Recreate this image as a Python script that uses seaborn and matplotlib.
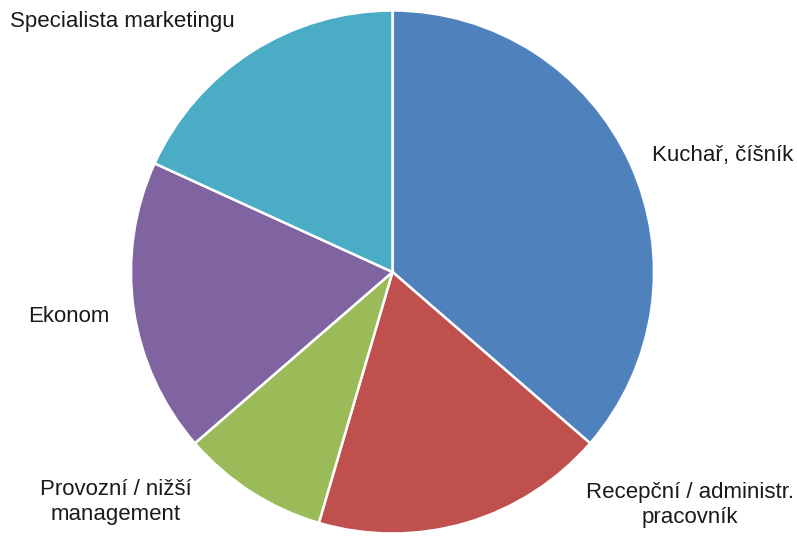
import matplotlib
matplotlib.use("Agg")
import matplotlib.pyplot as plt
import seaborn as sns

sns.set_theme(style="white")
plt.rcParams['font.family'] = ['Liberation Sans', 'DejaVu Sans']

categories = ["Kuchař, číšník", "Recepční / administr.\npracovník", "Provozní / nižší\nmanagement",
              "Ekonom", "Specialista marketingu"]
values = [4, 2, 1, 2, 2]
colors = ["#4F81BD", "#C0504D", "#9BBB59", "#8064A2", "#4BACC6"]

W, H = 797, 541
fig = plt.figure(figsize=(W / 100, H / 100), dpi=100)
ax = fig.add_axes([0, 0, 1, 1])

wedges, texts = ax.pie(values, labels=categories, colors=colors, startangle=90, counterclock=False,
                       center=(392.5, 269), radius=261.5, frame=True,
                       wedgeprops=dict(edgecolor="white", linewidth=1.8),
                       textprops=dict(fontsize=16, color="#1a1a1a", linespacing=1.3))
ax.set_xlim(0, W)
ax.set_ylim(0, H)
ax.set_aspect("equal")
ax.axis("off")

label_pos = [(652, 386, "left"), (690, 36, "center"), (116, 39, "center"), (69, 225, "center"), (10, 519, "left")]
for t, (x, y, ha) in zip(texts, label_pos):
    t.set_position((x, y))
    t.set_ha(ha)
    t.set_va("center")
    t.set_multialignment("center")

fig.savefig("out.png", dpi=100)
